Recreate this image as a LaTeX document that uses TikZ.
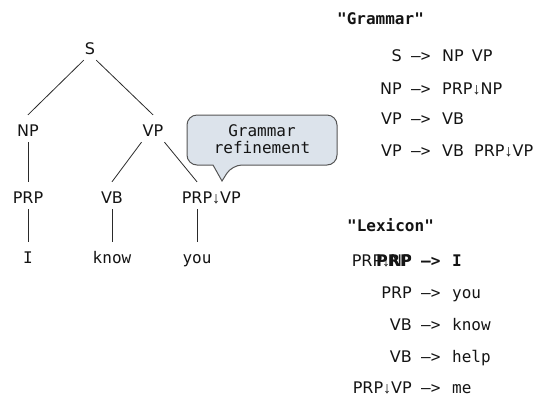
\documentclass[tikz,border=0pt]{standalone}
\usepackage{fontspec}
\setmainfont{DejaVu Sans}
\setmonofont{DejaVu Sans Mono}
\newfontfamily\arrowfont{Liberation Sans}
\newcommand\dnarr{{\arrowfont ↓}}
\definecolor{ink}{HTML}{141414}
\definecolor{linec}{HTML}{2A2A2A}
\definecolor{callfill}{HTML}{DCE3EB}
\definecolor{callborder}{HTML}{555555}
\begin{document}
\begin{tikzpicture}[x=1bp,y=-1bp,
  lbl/.style={font=\fontsize{16bp}{19bp}\selectfont, text=ink, anchor=base,
    inner xsep=1bp, inner ysep=5bp, text height=16bp, text depth=1bp},
  leaf/.style={lbl, font=\fontsize{16bp}{19bp}\selectfont\ttfamily},
  edge/.style={draw=linec, line width=0.8bp},
  rs/.style={font=\fontsize{16bp}{19bp}\selectfont, text=ink, inner sep=0pt},
  rm/.style={font=\fontsize{16bp}{19bp}\selectfont\ttfamily, text=ink, inner sep=0pt},
  rb/.style={font=\fontsize{16bp}{19bp}\selectfont\ttfamily\bfseries, text=ink, inner sep=0pt},
  rsb/.style={font=\fontsize{16bp}{19bp}\selectfont\bfseries, text=ink, inner sep=0pt},
  callout/.style={draw=callborder, fill=callfill, line width=1bp}
]
\useasboundingbox (0,0) rectangle (549,396);

% tree
\node[lbl] (S) at (90,54) {S};
\node[lbl] (NP) at (28,136) {NP};
\node[lbl] (VP) at (153,136) {VP};
\node[lbl] (PRP) at (28,203) {PRP};
\node[lbl] (VB) at (112,203) {VB};
\node[lbl] (PRPVP) at (197,203) {PRP\rlap{\dnarr VP}};
\node[leaf] (I) at (28,263) {I};
\node[leaf] (know) at (112,263) {know};
\node[leaf] (you) at (197,263) {you};

\draw[edge] (S.south west) -- (NP.north);
\draw[edge] (S.south east) -- (VP.north);
\draw[edge] (VP.south west) -- (VB.north);
\draw[edge] (VP.south east) -- (PRPVP.north);
\draw[edge] (NP.south) -- (PRP.north);
\draw[edge] (PRP.south) -- (I.north);
\draw[edge] (VB.south) -- (know.north);
\draw[edge] (PRPVP.south) -- (you.north);

% callout
\path[callout, rounded corners=10bp] (262,115) -- (337,115) -- (337,165) -- (232,165)
  [sharp corners] -- (222,181) -- (213,165) [rounded corners=10bp] -- (187,165) -- (187,115) -- cycle;
\node[rm, align=center, font=\fontsize{16bp}{17bp}\selectfont\ttfamily] (call) at (262,139) {Grammar\\refinement};

% grammar
\node[rb, anchor=base west] (ghead) at (337,24) {"Grammar"};
\node[rs, anchor=base east] (g1l) at (402,61) {S};
\node[rm, anchor=base west] (g1a) at (411,61) {–>};
\node[rs, anchor=base west] (g1r) at (442,61) {NP\hspace{3bp} VP};
\node[rs, anchor=base east] (g2l) at (402,94) {NP};
\node[rm, anchor=base west] (g2a) at (411,94) {–>};
\node[rs, anchor=base west] (g2r) at (442,94) {PRP\dnarr NP};
\node[rs, anchor=base east] (g3l) at (402,124) {VP};
\node[rm, anchor=base west] (g3a) at (411,124) {–>};
\node[rs, anchor=base west] (g3r) at (442,124) {VB};
\node[rs, anchor=base east] (g4l) at (402,156) {VP};
\node[rm, anchor=base west] (g4a) at (411,156) {–>};
\node[rs, anchor=base west] (g4r) at (442,156) {VB\hspace{5bp} PRP\dnarr VP};

% lexicon
\node[rb, anchor=base west] (lhead) at (347,231) {"Lexicon"};
\node[rs, anchor=base east] (l1l) at (412,266) {PRP\dnarr NP};
\node[rsb, anchor=base east] (l1lb) at (412,266) {PRP};
\node[rb, anchor=base west] (l1a) at (421,266) {–>};
\node[rb, anchor=base west] (l1r) at (452,266) {I};
\node[rs, anchor=base east] (l2l) at (412,298) {PRP};
\node[rm, anchor=base west] (l2a) at (421,298) {–>};
\node[rm, anchor=base west] (l2r) at (452,298) {you};
\node[rs, anchor=base east] (l3l) at (412,330) {VB};
\node[rm, anchor=base west] (l3a) at (421,330) {–>};
\node[rm, anchor=base west] (l3r) at (452,330) {know};
\node[rs, anchor=base east] (l4l) at (412,362) {VB};
\node[rm, anchor=base west] (l4a) at (421,362) {–>};
\node[rm, anchor=base west] (l4r) at (452,362) {help};
\node[rs, anchor=base east] (l5l) at (412,393) {PRP\dnarr VP};
\node[rm, anchor=base west] (l5a) at (421,393) {–>};
\node[rm, anchor=base west] (l5r) at (452,393) {me};
\end{tikzpicture}
\end{document}
